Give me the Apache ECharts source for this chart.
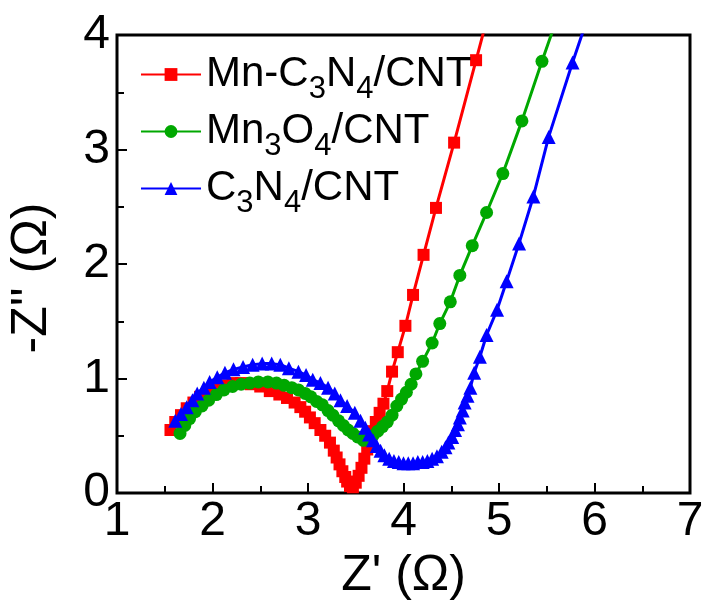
<!DOCTYPE html>
<html>
<head>
<meta charset="utf-8">
<script src="https://cdn.jsdelivr.net/npm/echarts@6/dist/echarts.min.js"></script>
<style>html,body{margin:0;padding:0;background:#fff;}#c{width:708px;height:603px;}</style>
</head>
<body>
<div id="c"></div>
<script>
// ---- data ----
const seriesNames = ['Mn-C3N4/CNT', 'Mn3O4/CNT', 'C3N4/CNT'];
const xTicks = [1, 2, 3, 4, 5, 6, 7];
const yTicks = [0, 1, 2, 3, 4];

const redX = [1.56,1.61,1.67,1.73,1.80,1.87,1.95,2.03,2.12,2.21,2.30,2.40,2.50,2.60,2.70,2.78,2.86,2.92,2.97,3.02,3.07,3.13,3.18,3.23,3.27,3.30,3.33,3.36,3.39,3.41,3.44,3.47,3.50,3.53,3.56,3.59,3.62,3.65,3.68,3.71,3.75,3.79,3.83,3.88,3.94,4.02,4.10,4.21,4.34,4.53,4.76,5.02];
const redY = [0.55,0.62,0.68,0.74,0.79,0.84,0.88,0.92,0.94,0.96,0.96,0.95,0.93,0.89,0.86,0.83,0.79,0.75,0.71,0.66,0.61,0.55,0.50,0.44,0.37,0.31,0.25,0.19,0.14,0.10,0.06,0.05,0.09,0.15,0.22,0.30,0.38,0.46,0.54,0.62,0.70,0.78,0.89,1.06,1.23,1.46,1.73,2.08,2.49,3.06,3.78,4.60];

const greenX = [1.66,1.71,1.76,1.82,1.89,1.96,2.04,2.12,2.21,2.30,2.39,2.48,2.58,2.67,2.75,2.83,2.90,2.97,3.03,3.09,3.15,3.21,3.26,3.32,3.37,3.42,3.47,3.52,3.58,3.63,3.68,3.73,3.78,3.83,3.88,3.93,3.98,4.03,4.08,4.13,4.20,4.30,4.38,4.49,4.59,4.72,4.87,5.04,5.24,5.45,5.70];
const greenY = [0.52,0.59,0.65,0.71,0.76,0.81,0.86,0.90,0.93,0.95,0.96,0.97,0.97,0.96,0.94,0.92,0.90,0.87,0.84,0.80,0.77,0.72,0.68,0.63,0.59,0.55,0.52,0.49,0.46,0.47,0.50,0.54,0.58,0.62,0.68,0.76,0.82,0.88,0.95,1.04,1.15,1.31,1.48,1.67,1.90,2.16,2.45,2.79,3.25,3.77,4.37];

const blueX = [1.61,1.67,1.73,1.79,1.84,1.91,1.97,2.05,2.13,2.22,2.32,2.42,2.52,2.62,2.71,2.80,2.90,2.98,3.05,3.13,3.21,3.28,3.34,3.41,3.49,3.55,3.60,3.64,3.68,3.72,3.76,3.80,3.85,3.90,3.95,4.00,4.05,4.10,4.15,4.20,4.25,4.30,4.35,4.40,4.44,4.47,4.51,4.54,4.57,4.59,4.62,4.64,4.67,4.70,4.74,4.80,4.87,4.98,5.08,5.21,5.36,5.52,5.77,6.05];
const blueY = [0.63,0.69,0.75,0.81,0.87,0.92,0.97,1.01,1.05,1.08,1.10,1.12,1.13,1.13,1.12,1.09,1.06,1.03,0.99,0.96,0.92,0.87,0.81,0.76,0.70,0.63,0.57,0.51,0.46,0.41,0.37,0.33,0.30,0.28,0.27,0.26,0.26,0.26,0.27,0.27,0.28,0.30,0.32,0.36,0.40,0.44,0.49,0.55,0.60,0.66,0.72,0.79,0.85,0.92,1.05,1.19,1.38,1.60,1.85,2.18,2.59,3.11,3.76,4.45];

const colors = ['#ff0000', '#00a800', '#0000ff'];
const symbols = ['rect', 'circle', 'triangle'];
const symbolSizes = [12, 13, 14];

const pair = (xs, ys) => xs.map((x, i) => [x, ys[i]]);
const seriesData = [pair(redX, redY), pair(greenX, greenY), pair(blueX, blueY)];

const FONT = 'Arial, "Liberation Sans", sans-serif';
const chart = echarts.init(document.getElementById('c'), null, {renderer: 'canvas'});

const option = {
  backgroundColor: '#fff',
  animation: false,
  grid: {left: 117, right: 18, top: 35, bottom: 110, containLabel: false, outerBoundsMode: 'none',
         show: true, borderColor: '#000', borderWidth: 3, backgroundColor: 'transparent'},
  legend: {
    orient: 'vertical', left: 140, top: 44, padding: 0, itemGap: -4,
    itemWidth: 60, itemHeight: 16,
    data: seriesNames,
    formatter: function (name) {
      return '{a|' + name.replace(/(\d)/g, '}{s|$1}{a|') + '}';
    },
    textStyle: {
      fontFamily: FONT, color: '#000',
      rich: {
        a: {fontFamily: FONT, fontSize: 42, lineHeight: 44, color: '#000'},
        s: {fontFamily: FONT, fontSize: 31, lineHeight: 14, padding: [30, 0, 0, 0], color: '#000'}
      }
    }
  },
  xAxis: {
    type: 'value', min: xTicks[0], max: xTicks[xTicks.length - 1], interval: 1,
    name: "Z' (Ω)", nameLocation: 'middle', nameGap: 50,
    nameTextStyle: {fontFamily: FONT, fontSize: 50, color: '#000'},
    axisLine: {show: false},
    axisTick: {show: true, inside: true, length: 10, lineStyle: {color: '#000', width: 2}},
    minorTick: {show: true, splitNumber: 2, length: 7, lineStyle: {color: '#000', width: 2}},
    splitLine: {show: false},
    axisLabel: {fontFamily: FONT, fontSize: 48, color: '#000', margin: 5}
  },
  yAxis: {
    type: 'value', min: yTicks[0], max: yTicks[yTicks.length - 1], interval: 1,
    name: "-Z'' (Ω)", nameLocation: 'middle', nameGap: 60,
    nameTextStyle: {fontFamily: FONT, fontSize: 50, color: '#000', padding: [0, 28, 0, 0]},
    axisLine: {show: false},
    axisTick: {show: true, inside: true, length: 10, lineStyle: {color: '#000', width: 2}},
    minorTick: {show: true, splitNumber: 2, length: 7, lineStyle: {color: '#000', width: 2}},
    splitLine: {show: false},
    axisLabel: {fontFamily: FONT, fontSize: 48, color: '#000', margin: 7}
  },
  series: seriesNames.map((n, i) => ({
    name: n, type: 'line', data: seriesData[i],
    symbol: symbols[i], symbolSize: symbolSizes[i],
    showAllSymbol: true, clip: true,
    lineStyle: {color: colors[i], width: 3},
    itemStyle: {color: colors[i], borderWidth: 0},
    z: 2 + i
  }))
};
chart.setOption(option);
</script>
</body>
</html>
